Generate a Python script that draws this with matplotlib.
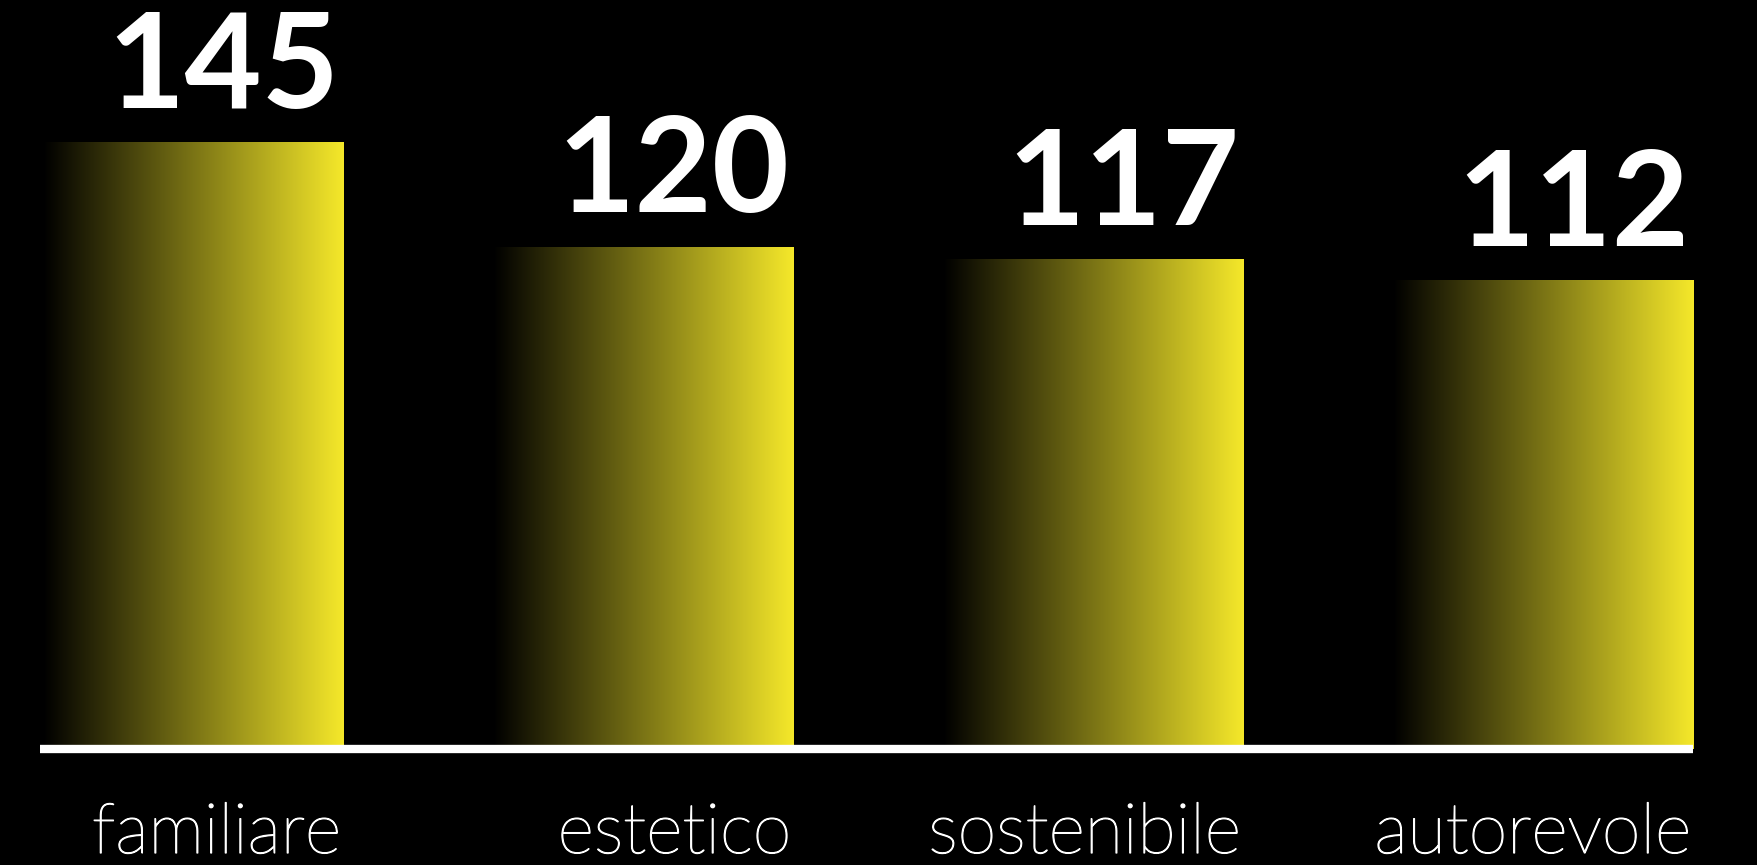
import matplotlib
matplotlib.use("Agg")
import matplotlib.pyplot as plt
import matplotlib.patheffects as pe
import numpy as np
from matplotlib.colors import LinearSegmentedColormap

categories = ["familiare", "estetico", "sostenibile", "autorevole"]
values = [145, 120, 117, 112]

# gradient from black (left) to yellow (right) inside every bar
cmap = LinearSegmentedColormap.from_list("blk_yel", ["#000000", "#f5e82a"])

fig = plt.figure(figsize=(17.58, 8.65), dpi=100, facecolor="black")
ax = fig.add_axes([0, 0, 1, 1], facecolor="black")

px = 4.18  # pixels per unit on y
ax.set_xlim(-193 / 450, (1758 - 193) / 450)
ax.set_ylim(-(865 - 749) / px, 749 / px)
ax.axis("off")

width = 0.667
grad = np.linspace(0, 1, 256).reshape(1, -1)
x = np.arange(len(categories))
for i, v in enumerate(values):
    left = x[i] - width / 2
    right = x[i] + width / 2
    ax.imshow(grad, cmap=cmap, aspect="auto", extent=[left, right, 0, v],
              interpolation="bicubic", zorder=2)
    ax.text(right - 0.008, v + 35 / px, str(v), color="white", ha="right", va="baseline",
            fontsize=96, fontweight="bold", family="Lato", zorder=3)
    ax.text(right - 0.004, -(853 - 749) / px, categories[i], color="white", ha="right",
            va="baseline", fontsize=50.5, fontweight="light", family="Lato", zorder=3,
            path_effects=[pe.withStroke(linewidth=0.9, foreground="white")])

# white baseline
ax.hlines(0, x[0] - width / 2 - 0.006, x[-1] + width / 2, color="white", lw=6, zorder=4)

fig.savefig("out.png", dpi=100, facecolor="black")
